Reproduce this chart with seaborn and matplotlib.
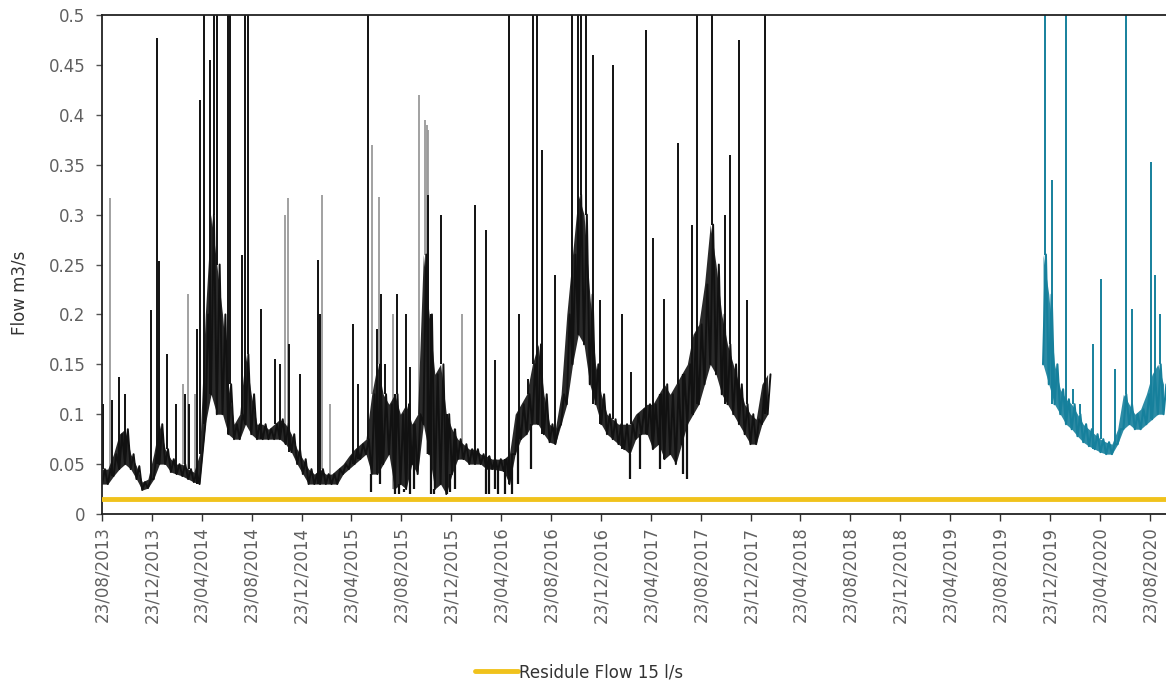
import matplotlib
matplotlib.use("Agg")
import matplotlib.pyplot as plt
import numpy as np
import pandas as pd
import seaborn as sns

# main gauge, one low / high reading per fortnight (m3/s)
black_start = "2013-08-23"
black_low = [0.03, 0.03, 0.038, 0.045, 0.05, 0.045, 0.035, 0.024, 0.026, 0.035,
             0.05, 0.05, 0.042, 0.04, 0.038, 0.035, 0.032, 0.03, 0.09, 0.12,
             0.1, 0.1, 0.08, 0.075, 0.075, 0.09, 0.08, 0.075, 0.075, 0.075,
             0.075, 0.075, 0.07, 0.062, 0.05, 0.04, 0.03, 0.03, 0.03, 0.03,
             0.03, 0.03, 0.04, 0.045, 0.05, 0.055, 0.06, 0.04, 0.04, 0.05,
             0.06, 0.025, 0.03, 0.025, 0.05, 0.04, 0.09, 0.06, 0.025, 0.03,
             0.02, 0.04, 0.055, 0.055, 0.05, 0.05, 0.05, 0.045, 0.045, 0.044,
             0.043, 0.03, 0.06, 0.075, 0.08, 0.09, 0.09, 0.08, 0.072, 0.07,
             0.09, 0.11, 0.15, 0.18, 0.17, 0.13, 0.11, 0.09, 0.08, 0.075,
             0.07, 0.065, 0.06, 0.075, 0.08, 0.08, 0.065, 0.07, 0.055, 0.06,
             0.05, 0.07, 0.09, 0.1, 0.11, 0.13, 0.15, 0.14, 0.12, 0.11,
             0.1, 0.09, 0.08, 0.07, 0.07, 0.09, 0.1]
black_high = [0.045, 0.045, 0.06, 0.08, 0.085, 0.06, 0.048, 0.032, 0.035, 0.06,
              0.09, 0.065, 0.055, 0.05, 0.05, 0.045, 0.042, 0.06, 0.2, 0.3,
              0.25, 0.2, 0.13, 0.09, 0.1, 0.16, 0.12, 0.09, 0.09, 0.085,
              0.09, 0.095, 0.09, 0.08, 0.065, 0.055, 0.045, 0.04, 0.045, 0.04,
              0.04, 0.045, 0.05, 0.058, 0.065, 0.07, 0.075, 0.12, 0.15, 0.12,
              0.11, 0.12, 0.1, 0.11, 0.09, 0.1, 0.26, 0.2, 0.14, 0.15,
              0.1, 0.085, 0.075, 0.07, 0.065, 0.065, 0.06, 0.058, 0.055, 0.055,
              0.055, 0.06, 0.1, 0.11, 0.12, 0.15, 0.17, 0.12, 0.09, 0.085,
              0.12, 0.2, 0.26, 0.32, 0.3, 0.22, 0.15, 0.12, 0.1, 0.095,
              0.09, 0.09, 0.09, 0.1, 0.105, 0.11, 0.11, 0.12, 0.13, 0.12,
              0.13, 0.14, 0.15, 0.18, 0.19, 0.23, 0.29, 0.25, 0.2, 0.17,
              0.15, 0.13, 0.11, 0.1, 0.095, 0.13, 0.14]

# storm peaks on the main gauge
black_spike_dates = ["2013-08-25", "2013-09-16", "2013-10-03", "2013-10-18", "2013-12-21",
                     "2014-01-04", "2014-01-09", "2014-01-29", "2014-02-19", "2014-03-14",
                     "2014-03-23", "2014-04-12", "2014-04-19", "2014-04-29", "2014-05-14",
                     "2014-05-23", "2014-05-31", "2014-06-26", "2014-07-01", "2014-07-31",
                     "2014-08-07", "2014-08-14", "2014-09-15", "2014-10-19", "2014-10-31",
                     "2014-11-22", "2014-12-19", "2015-02-01", "2015-02-06", "2015-04-27",
                     "2015-05-10", "2015-06-03", "2015-06-25", "2015-07-05", "2015-07-15",
                     "2015-08-13", "2015-09-04", "2015-09-14", "2015-10-27", "2015-11-28",
                     "2016-02-19", "2016-03-17", "2016-04-08", "2016-05-12", "2016-06-05",
                     "2016-06-27", "2016-07-10", "2016-07-19", "2016-08-01", "2016-09-01",
                     "2016-10-13", "2016-10-27", "2016-11-04", "2016-11-16", "2016-12-03",
                     "2016-12-20", "2017-01-21", "2017-02-12", "2017-03-06", "2017-04-11",
                     "2017-04-28", "2017-05-25", "2017-06-28", "2017-08-02", "2017-08-14",
                     "2017-09-19", "2017-10-21", "2017-11-02", "2017-11-24", "2017-12-14",
                     "2018-01-27"]
black_spike_peaks = [0.11, 0.114, 0.137, 0.12, 0.204,
                     0.477, 0.254, 0.16, 0.11, 0.12,
                     0.11, 0.185, 0.415, 0.55, 0.455,
                     0.55, 0.55, 0.55, 0.55, 0.26,
                     0.55, 0.55, 0.205, 0.155, 0.15,
                     0.17, 0.14, 0.255, 0.2, 0.19,
                     0.13, 0.55, 0.185, 0.22, 0.15,
                     0.22, 0.2, 0.147, 0.32, 0.3,
                     0.31, 0.285, 0.154, 0.55, 0.2,
                     0.135, 0.55, 0.55, 0.365, 0.24,
                     0.55, 0.55, 0.55, 0.55, 0.46,
                     0.214, 0.45, 0.2, 0.142, 0.485,
                     0.277, 0.215, 0.372, 0.29, 0.55,
                     0.55, 0.30, 0.36, 0.475, 0.214,
                     0.55]

# short drop-outs of the main gauge
black_dip_dates = ["2015-06-10", "2015-07-02", "2015-08-08", "2015-08-18", "2015-08-30",
                   "2015-09-14", "2015-09-23", "2015-11-04", "2015-11-11", "2015-12-13",
                   "2015-12-20", "2016-01-01", "2016-03-17", "2016-03-24", "2016-04-08",
                   "2016-04-15", "2016-05-02", "2016-05-19", "2016-06-03", "2016-07-05",
                   "2017-03-03", "2017-03-28", "2017-05-15", "2017-07-11", "2017-07-20"]
black_dip_lows = [0.022, 0.03, 0.02, 0.02, 0.022,
                  0.02, 0.025, 0.02, 0.02, 0.02,
                  0.022, 0.025, 0.02, 0.02, 0.025,
                  0.02, 0.02, 0.02, 0.03, 0.045,
                  0.035, 0.045, 0.045, 0.04, 0.035]

# second (grey) record, visible only where it pokes above the black one
grey_spike_dates = ["2013-09-12", "2014-03-09", "2014-03-21", "2014-04-07", "2014-11-13",
                    "2014-11-20", "2015-02-11", "2015-03-02", "2015-06-13", "2015-06-30",
                    "2015-08-03", "2015-10-05", "2015-10-20", "2015-10-24", "2015-10-27",
                    "2016-01-18"]
grey_spike_peaks = [0.317, 0.13, 0.22, 0.12, 0.30,
                    0.317, 0.32, 0.11, 0.37, 0.318,
                    0.2, 0.42, 0.395, 0.39, 0.385,
                    0.2]

# new gauge from December 2019
teal_start = "2019-12-06"
teal_low = [0.15, 0.13, 0.11, 0.1, 0.09, 0.085, 0.078, 0.072, 0.068, 0.065, 0.062,
            0.06, 0.06, 0.07, 0.085, 0.09, 0.085, 0.085, 0.09, 0.095, 0.1, 0.1]
teal_high = [0.26, 0.22, 0.15, 0.125, 0.115, 0.11, 0.1, 0.09, 0.085, 0.08, 0.075,
             0.072, 0.07, 0.085, 0.12, 0.11, 0.1, 0.105, 0.12, 0.14, 0.15, 0.13]
teal_spike_dates = ["2019-12-11", "2019-12-28", "2020-01-31", "2020-02-17", "2020-03-05",
                    "2020-04-06", "2020-04-26", "2020-05-30", "2020-06-26", "2020-07-10",
                    "2020-08-26", "2020-09-04", "2020-09-17"]
teal_spike_peaks = [0.55, 0.335, 0.55, 0.125, 0.11,
                    0.17, 0.235, 0.145, 0.55, 0.205,
                    0.353, 0.24, 0.2]

residual_flow = 0.015
residual_label = "Residule Flow 15 l/s"
x_range = ["2013-08-23", "2020-10-01"]
tick_dates = pd.date_range("2013-08-23", "2020-08-23", freq=pd.DateOffset(months=4))
y_ticks = [0, 0.05, 0.1, 0.15, 0.2, 0.25, 0.3, 0.35, 0.4, 0.45, 0.5]
y_tick_labels = ["0", "0.05", "0.1", "0.15", "0.2", "0.25", "0.3", "0.35", "0.4", "0.45", "0.5"]

BLACK = "#111111"
GREY = "#9a9a9a"
TEAL = "#16809c"
GOLD = "#f0c21c"
TEXT = "#606060"

assert len(black_spike_dates) == len(black_spike_peaks)
assert len(black_low) == len(black_high)


def zigzag(start, lows, highs):
    """interleave the fortnightly low/high readings into one trace"""
    base = pd.date_range(start, periods=len(lows), freq="14D")
    dates = np.empty(2 * len(lows), dtype="datetime64[ns]")
    dates[0::2] = base.values
    dates[1::2] = (base + pd.Timedelta(days=7)).values
    flow = np.empty(2 * len(lows))
    flow[0::2] = lows
    flow[1::2] = highs
    return pd.DataFrame({"date": dates, "flow": flow})


def envelope(start, lows, highs):
    """low/high readings on their fortnight dates, for the shaded noise band"""
    base = pd.date_range(start, periods=len(lows), freq="14D")
    return base, np.array(lows), np.array(highs)


def base_at(frame, dates):
    """flow of the trace at the sample nearest to each date"""
    d = pd.to_datetime(dates).values
    idx = np.searchsorted(frame["date"].values, d).clip(0, len(frame) - 1)
    return frame["flow"].values[idx]


black = zigzag(black_start, black_low, black_high)
teal = zigzag(teal_start, teal_low, teal_high)
residual = pd.DataFrame({"date": pd.to_datetime(x_range),
                         "flow": [residual_flow, residual_flow]})

sns.set_theme(style="white")
plt.rcParams["font.family"] = ["DejaVu Sans"]

fig = plt.figure(figsize=(11.66, 6.83), dpi=100)
ax = fig.add_axes([0.0875, 0.2474, 0.9125, 0.7306])

# grey record underneath
g_dates = pd.to_datetime(grey_spike_dates)
ax.vlines(g_dates, base_at(black, g_dates), grey_spike_peaks, color=GREY, lw=1.3, zorder=1)

# main gauge: dense daily noise band plus the trace itself
bd, bl, bh = envelope(black_start, black_low, black_high)
ax.fill_between(bd, bl, bh, color=BLACK, lw=0, alpha=0.9, zorder=2)
sns.lineplot(data=black, x="date", y="flow", color=BLACK, lw=1.4,
             estimator=None, sort=True, ax=ax, zorder=2)
b_dates = pd.to_datetime(black_spike_dates)
ax.vlines(b_dates, base_at(black, b_dates), black_spike_peaks, color=BLACK, lw=1.4, zorder=2)
d_dates = pd.to_datetime(black_dip_dates)
ax.vlines(d_dates, black_dip_lows, base_at(black, d_dates), color=BLACK, lw=1.6, zorder=2)

# new gauge
td, tl, th = envelope(teal_start, teal_low, teal_high)
ax.fill_between(td, tl, th, color=TEAL, lw=0, alpha=0.9, zorder=2)
sns.lineplot(data=teal, x="date", y="flow", color=TEAL, lw=1.5,
             estimator=None, sort=True, ax=ax, zorder=2)
t_dates = pd.to_datetime(teal_spike_dates)
ax.vlines(t_dates, base_at(teal, t_dates), teal_spike_peaks, color=TEAL, lw=1.4, zorder=2)

# residual flow
sns.lineplot(data=residual, x="date", y="flow", color=GOLD, lw=3.5,
             label=residual_label, ax=ax, zorder=3)
if ax.get_legend() is not None:
    ax.get_legend().remove()

ax.set_xlim(pd.to_datetime(x_range[0]), pd.to_datetime(x_range[1]))
ax.set_ylim(0, 0.5)
ax.set_xticks(tick_dates)
ax.set_xticklabels([d.strftime("%d/%m/%Y") for d in tick_dates], rotation=90)
ax.set_yticks(y_ticks)
ax.set_yticklabels(y_tick_labels)
ax.tick_params(axis="x", bottom=True, direction="out", length=5, width=1,
               color="#333333", labelcolor=TEXT, labelsize=12, pad=4)
ax.tick_params(axis="y", left=True, direction="out", length=4, width=1,
               color="#555555", labelcolor=TEXT, labelsize=12, pad=8)
ax.set_xlabel("")
ax.set_ylabel("Flow m3/s", fontsize=12, color="#333333")
ax.yaxis.set_label_coords(-0.069, 0.443)

for side in ["left", "bottom", "top"]:
    ax.spines[side].set_color("#222222")
    ax.spines[side].set_linewidth(1.3)
ax.spines["right"].set_visible(False)

handles, labels = ax.get_legend_handles_labels()
fig.legend(handles, labels, loc="center", bbox_to_anchor=(0.4966, 0.016),
           frameon=False, fontsize=12, handlelength=2.6, handletextpad=0.05,
           labelcolor="#333333")

fig.savefig("out.png", dpi=100)
